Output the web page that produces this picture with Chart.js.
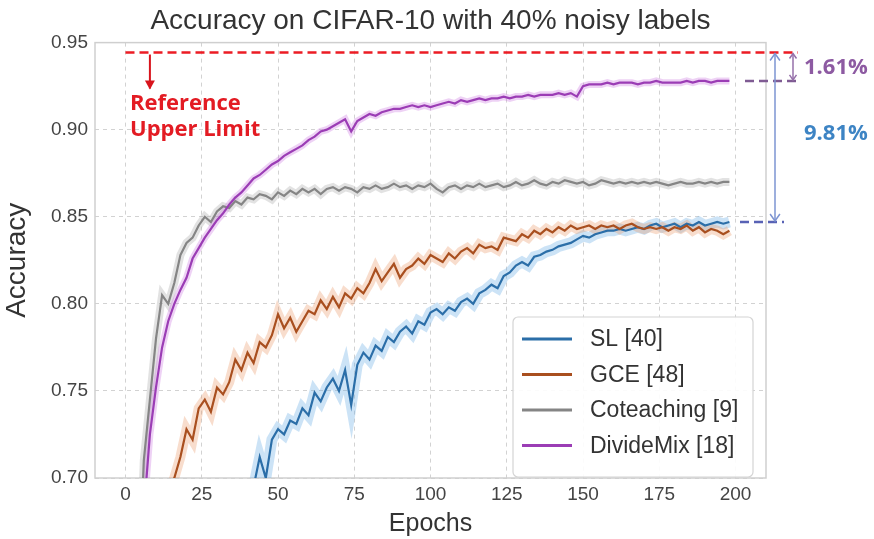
<!DOCTYPE html>
<html>
<head>
<meta charset="utf-8">
<script src="https://cdn.jsdelivr.net/npm/chart.js@4.4.0/dist/chart.umd.min.js"></script>
<style>
  html, body { margin: 0; padding: 0; background: #fff; }
  #wrap { width: 874px; height: 539px; }
</style>
</head>
<body>
<div id="wrap"><canvas id="accChart" width="874" height="539"></canvas></div>
<script>
// epochs sampled every 2
const epochs = [0, 2, 4, 6, 8, 10, 12, 14, 16, 18, 20, 22, 24, 26, 28, 30, 32, 34, 36, 38,
  40, 42, 44, 46, 48, 50, 52, 54, 56, 58, 60, 62, 64, 66, 68, 70, 72, 74, 76, 78,
  80, 82, 84, 86, 88, 90, 92, 94, 96, 98, 100, 102, 104, 106, 108, 110, 112, 114, 116, 118,
  120, 122, 124, 126, 128, 130, 132, 134, 136, 138, 140, 142, 144, 146, 148, 150, 152, 154, 156, 158,
  160, 162, 164, 166, 168, 170, 172, 174, 176, 178, 180, 182, 184, 186, 188, 190, 192, 194, 196, 198];

const slAcc = [0.380, 0.420, 0.450, 0.480, 0.500, 0.520, 0.540, 0.560, 0.575, 0.590,
  0.600, 0.615, 0.625, 0.635, 0.645, 0.652, 0.660, 0.668, 0.675, 0.682,
  0.688, 0.695, 0.712, 0.700, 0.722, 0.728, 0.725, 0.733, 0.731, 0.740,
  0.736, 0.749, 0.744, 0.752, 0.757, 0.750, 0.762, 0.742, 0.765, 0.772,
  0.768, 0.776, 0.773, 0.781, 0.778, 0.784, 0.787, 0.783, 0.790, 0.788,
  0.795, 0.797, 0.794, 0.798, 0.796, 0.801, 0.803, 0.800, 0.806, 0.808,
  0.811, 0.809, 0.816, 0.818, 0.822, 0.824, 0.822, 0.827, 0.828, 0.830,
  0.831, 0.833, 0.834, 0.835, 0.837, 0.839, 0.838, 0.840, 0.841, 0.842,
  0.842, 0.843, 0.842, 0.843, 0.844, 0.843, 0.845, 0.846, 0.844, 0.845,
  0.846, 0.844, 0.846, 0.845, 0.847, 0.845, 0.846, 0.847, 0.846, 0.847];

const gceAcc = [0.550, 0.580, 0.610, 0.635, 0.655, 0.670, 0.680, 0.692, 0.700, 0.712,
  0.728, 0.722, 0.740, 0.745, 0.738, 0.752, 0.748, 0.755, 0.768, 0.762,
  0.772, 0.766, 0.778, 0.775, 0.782, 0.794, 0.786, 0.792, 0.784, 0.790,
  0.796, 0.794, 0.802, 0.797, 0.804, 0.798, 0.806, 0.803, 0.809, 0.806,
  0.812, 0.820, 0.813, 0.818, 0.823, 0.815, 0.820, 0.822, 0.826, 0.823,
  0.828, 0.826, 0.824, 0.829, 0.826, 0.830, 0.832, 0.829, 0.834, 0.832,
  0.833, 0.831, 0.838, 0.837, 0.836, 0.840, 0.838, 0.842, 0.840, 0.843,
  0.841, 0.844, 0.842, 0.845, 0.843, 0.844, 0.845, 0.843, 0.845, 0.844,
  0.845, 0.843, 0.845, 0.846, 0.844, 0.843, 0.844, 0.843, 0.844, 0.842,
  0.844, 0.843, 0.845, 0.842, 0.844, 0.841, 0.843, 0.842, 0.840, 0.842];

const coteachAcc = [0.400, 0.500, 0.620, 0.710, 0.745, 0.780, 0.805, 0.800, 0.812, 0.828,
  0.835, 0.838, 0.845, 0.850, 0.847, 0.853, 0.856, 0.855, 0.859, 0.857,
  0.861, 0.860, 0.863, 0.862, 0.860, 0.864, 0.862, 0.865, 0.863, 0.866,
  0.864, 0.866, 0.863, 0.866, 0.867, 0.865, 0.867, 0.866, 0.864, 0.867,
  0.866, 0.868, 0.866, 0.867, 0.869, 0.867, 0.868, 0.866, 0.868, 0.867,
  0.869, 0.866, 0.864, 0.867, 0.868, 0.866, 0.868, 0.867, 0.869, 0.867,
  0.868, 0.869, 0.867, 0.868, 0.870, 0.868, 0.869, 0.871, 0.869, 0.868,
  0.870, 0.869, 0.871, 0.870, 0.869, 0.870, 0.868, 0.869, 0.871, 0.870,
  0.869, 0.870, 0.869, 0.870, 0.869, 0.870, 0.869, 0.870, 0.869, 0.868,
  0.869, 0.870, 0.869, 0.869, 0.870, 0.869, 0.870, 0.869, 0.870, 0.870];

const divideMixAcc = [0.450, 0.520, 0.600, 0.680, 0.725, 0.752, 0.775, 0.790, 0.800, 0.808,
  0.815, 0.826, 0.832, 0.838, 0.843, 0.848, 0.852, 0.857, 0.861, 0.864,
  0.868, 0.872, 0.874, 0.877, 0.880, 0.882, 0.885, 0.887, 0.889, 0.891,
  0.894, 0.896, 0.899, 0.900, 0.902, 0.904, 0.906, 0.899, 0.905, 0.907,
  0.909, 0.908, 0.910, 0.911, 0.912, 0.912, 0.913, 0.914, 0.913, 0.914,
  0.913, 0.914, 0.915, 0.916, 0.915, 0.917, 0.916, 0.917, 0.918, 0.917,
  0.918, 0.918, 0.919, 0.918, 0.919, 0.919, 0.920, 0.919, 0.920, 0.920,
  0.920, 0.921, 0.920, 0.921, 0.919, 0.925, 0.926, 0.926, 0.926, 0.927,
  0.926, 0.927, 0.927, 0.927, 0.926, 0.927, 0.927, 0.928, 0.927, 0.927,
  0.927, 0.927, 0.928, 0.927, 0.928, 0.928, 0.927, 0.928, 0.928, 0.928];

const seriesNames = ['SL [40]', 'GCE [48]', 'Coteaching [9]', 'DivideMix [18]'];
const xTicks = [0, 25, 50, 75, 100, 125, 150, 175, 200];
const yTicks = [0.70, 0.75, 0.80, 0.85, 0.90, 0.95];
const refLimit = 0.9443;
const refLabel = ['Reference', 'Upper Limit'];
const gapLabels = ['1.61%', '9.81%'];

const lineColors = ['#2b6ea8', '#a94f1f', '#858585', '#9b3db5'];
const bandColors = ['rgba(110,175,230,0.35)', 'rgba(232,150,100,0.32)', 'rgba(165,165,165,0.32)', 'rgba(205,125,225,0.35)'];
const bandWidths = [11, 10, 8, 7];
const allSeries = [slAcc, gceAcc, coteachAcc, divideMixAcc];

const FONT = "'Liberation Sans', Arial, sans-serif";

const toPoints = vals => epochs.map((e, i) => ({ x: e, y: vals[i] }));

const datasets = [];
allSeries.forEach((vals, i) => {
  // translucent wide stroke standing in for the std band
  datasets.push({
    label: seriesNames[i] + ' band',
    data: toPoints(vals),
    borderColor: bandColors[i],
    borderWidth: bandWidths[i],
    pointRadius: 0,
    tension: 0,
    order: 20 - i
  });
  datasets.push({
    label: seriesNames[i],
    data: toPoints(vals),
    borderColor: lineColors[i],
    borderWidth: 2.2,
    pointRadius: 0,
    tension: 0,
    order: 4 - i
  });
});

function arrowHead(ctx, x, y, dir, size) {
  // open V arrow head pointing up (dir=-1) or down (dir=1)
  ctx.beginPath();
  ctx.moveTo(x - size * 0.7, y - dir * size);
  ctx.lineTo(x, y);
  ctx.lineTo(x + size * 0.7, y - dir * size);
  ctx.stroke();
}

const frameAndNotes = {
  id: 'frameAndNotes',
  beforeDatasetsDraw(chart) {
    const { ctx, chartArea: a } = chart;
    ctx.save();
    ctx.strokeStyle = '#cfcfcf';
    ctx.lineWidth = 1.5;
    ctx.strokeRect(a.left, a.top, a.right - a.left, a.bottom - a.top);
    ctx.restore();
  },
  afterDatasetsDraw(chart) {
    const { ctx } = chart;
    // legend box
    const bx = 513, by = 317, bw = 240, bh = 160;
    ctx.save();
    ctx.fillStyle = 'rgba(255,255,255,0.9)';
    ctx.strokeStyle = '#d4d4d4';
    ctx.lineWidth = 1.2;
    ctx.beginPath();
    ctx.roundRect(bx, by, bw, bh, 5);
    ctx.fill();
    ctx.stroke();
    ctx.font = '23px ' + FONT;
    ctx.fillStyle = '#333';
    ctx.textBaseline = 'middle';
    seriesNames.forEach((name, i) => {
      const yy = by + 22 + i * 35.5;
      ctx.strokeStyle = lineColors[i];
      ctx.lineWidth = 3;
      ctx.beginPath();
      ctx.moveTo(522, yy);
      ctx.lineTo(572, yy);
      ctx.stroke();
      ctx.fillText(name, 590, yy + 1);
    });
    ctx.restore();
  },
  afterDraw(chart) {
    const { ctx, scales: { x, y }, chartArea: a } = chart;
    const refY = y.getPixelForValue(refLimit);
    const dmY = y.getPixelForValue(divideMixAcc[divideMixAcc.length - 1]);
    const slY = y.getPixelForValue(slAcc[slAcc.length - 1]);
    ctx.save();

    // red reference line
    ctx.strokeStyle = '#ec1c24';
    ctx.lineWidth = 2.5;
    ctx.setLineDash([9, 5]);
    ctx.beginPath();
    ctx.moveTo(x.getPixelForValue(0), refY);
    ctx.lineTo(a.right + 32, refY);
    ctx.stroke();

    // purple dashed at DivideMix final
    ctx.strokeStyle = '#7f5b93';
    ctx.beginPath();
    ctx.moveTo(a.right - 21, dmY);
    ctx.lineTo(a.right + 32, dmY);
    ctx.stroke();

    // blue dashed at SL final
    ctx.strokeStyle = '#5862b5';
    ctx.beginPath();
    ctx.moveTo(a.right - 26, slY);
    ctx.lineTo(a.right + 18, slY);
    ctx.stroke();
    ctx.setLineDash([]);

    // red arrow
    const ax = x.getPixelForValue(8);
    ctx.strokeStyle = '#d8141c';
    ctx.lineWidth = 2;
    ctx.beginPath();
    ctx.moveTo(ax, refY + 2);
    ctx.lineTo(ax, refY + 36);
    ctx.stroke();
    ctx.fillStyle = '#d8141c';
    ctx.beginPath();
    ctx.moveTo(ax - 5, refY + 28);
    ctx.lineTo(ax + 5, refY + 28);
    ctx.lineTo(ax, refY + 37);
    ctx.closePath();
    ctx.fill();

    // blue double arrow
    const bxl = a.right + 9;
    ctx.strokeStyle = '#7d94d2';
    ctx.lineWidth = 1.5;
    ctx.beginPath();
    ctx.moveTo(bxl, refY + 1);
    ctx.lineTo(bxl, slY - 1);
    ctx.stroke();
    arrowHead(ctx, bxl, refY + 1, -1, 7);
    arrowHead(ctx, bxl, slY - 1, 1, 7);

    // purple double arrow
    const pxl = a.right + 27;
    ctx.strokeStyle = '#9670aa';
    ctx.beginPath();
    ctx.moveTo(pxl, refY + 1);
    ctx.lineTo(pxl, dmY - 1);
    ctx.stroke();
    arrowHead(ctx, pxl, refY + 1, -1, 5);
    arrowHead(ctx, pxl, dmY - 1, 1, 5);

    // texts
    ctx.font = "bold 22px 'Open Sans', sans-serif";
    ctx.textBaseline = 'middle';
    ctx.fillStyle = '#e31b23';
    ctx.fillText(refLabel[0], 130, 104);
    ctx.fillText(refLabel[1], 130, 130);
    ctx.fillStyle = '#8d5aa2';
    ctx.fillText(gapLabels[0], 804, 68);
    ctx.fillStyle = '#3d84c4';
    ctx.fillText(gapLabels[1], 804, 134);
    ctx.restore();
  }
};

new Chart(document.getElementById('accChart'), {
  type: 'line',
  data: { datasets },
  options: {
    responsive: false,
    animation: false,
    devicePixelRatio: 1,
    layout: { padding: { left: 0, right: 108, top: 0, bottom: 0 } },
    plugins: {
      legend: { display: false },
      tooltip: { enabled: false },
      title: {
        display: true,
        fullSize: false,
        text: 'Accuracy on CIFAR-10 with 40% noisy labels',
        color: '#333',
        font: { family: FONT, size: 28, weight: 'normal' },
        padding: { top: 4, bottom: 5 }
      }
    },
    scales: {
      x: {
        type: 'linear',
        min: -10,
        max: 210,
        afterBuildTicks: s => { s.ticks = xTicks.map(v => ({ value: v })); },
        afterFit: s => { s.height = 61; },
        ticks: { color: '#444', font: { family: FONT, size: 19 }, padding: 5, maxRotation: 0 },
        grid: { color: '#d2d2d2', lineWidth: 1, drawTicks: false },
        border: { display: false, dash: [4, 4] },
        title: { display: true, text: 'Epochs', color: '#333', font: { family: FONT, size: 25 }, padding: { top: 0, bottom: 0 } }
      },
      y: {
        min: 0.70,
        max: 0.95,
        afterBuildTicks: s => { s.ticks = yTicks.map(v => ({ value: v })); },
        afterFit: s => { s.width = 95; },
        ticks: { color: '#444', font: { family: FONT, size: 19 }, padding: 7, callback: v => v.toFixed(2) },
        grid: { color: '#d2d2d2', lineWidth: 1, drawTicks: false },
        border: { display: false, dash: [4, 4] },
        title: { display: true, text: 'Accuracy', color: '#333', font: { family: FONT, size: 28 }, padding: { top: 0, bottom: 6 } }
      }
    }
  },
  plugins: [frameAndNotes]
});
</script>
</body>
</html>
